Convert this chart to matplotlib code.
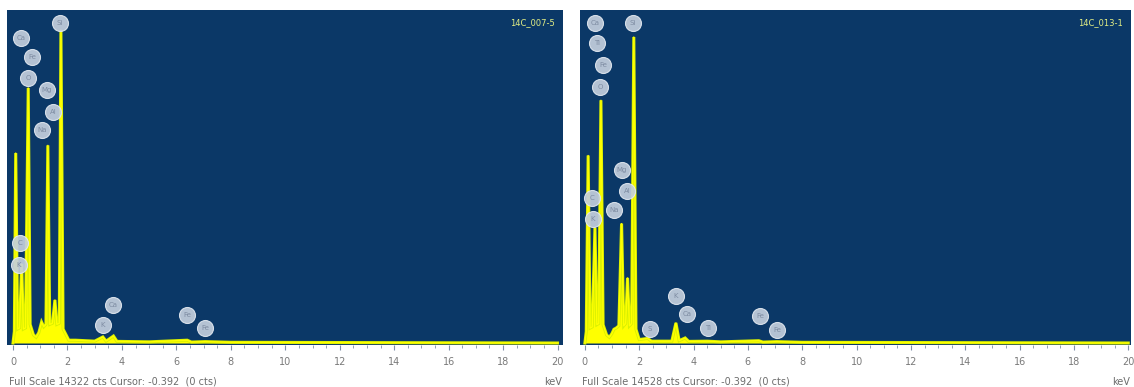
import matplotlib
matplotlib.use("Agg")
import matplotlib.pyplot as plt
from matplotlib.ticker import MultipleLocator

# spectrum 1 (14C_007-5): energy (keV) and counts
energy_a = [0.00, 0.05, 0.10, 0.17, 0.24, 0.32, 0.38, 0.46, 0.56, 0.63, 0.75, 0.85,
            0.95, 1.05, 1.13, 1.21, 1.28, 1.35, 1.45, 1.54, 1.61, 1.70, 1.76, 1.84,
            1.95, 2.05, 2.30, 3.00, 3.30, 3.42, 3.69, 3.82, 5.00, 6.40, 6.55, 7.06,
            8.00, 20.0]
counts_a = [0, 500, 8170, 600, 650, 3400, 600, 650, 10970, 800, 350, 250,
            450, 900, 700, 800, 8500, 800, 850, 1850, 800, 850, 13460, 600,
            350, 120, 120, 80, 260, 80, 300, 70, 50, 120, 40, 60,
            30, 0]

# spectrum 2 (14C_013-1)
energy_b = [0.00, 0.05, 0.12, 0.19, 0.27, 0.37, 0.44, 0.51, 0.59, 0.67, 0.80, 0.90,
            0.99, 1.07, 1.15, 1.25, 1.35, 1.43, 1.50, 1.57, 1.64, 1.72, 1.80, 1.88,
            2.00, 2.31, 2.45, 3.20, 3.35, 3.47, 3.69, 3.82, 4.51, 5.00, 6.40, 6.55,
            7.06, 8.00, 20.0]
counts_b = [0, 500, 8180, 650, 700, 5030, 800, 850, 10590, 800, 350, 250,
            400, 600, 650, 750, 5210, 750, 850, 2840, 750, 850, 13350, 600,
            150, 200, 80, 80, 875, 100, 220, 70, 80, 50, 100, 40,
            60, 30, 0]

full_scale = [14322, 14528]
names = ["14C_007-5", "14C_013-1"]

# element markers: symbol, keV, counts
labels_a = [("Si", 1.72, 13760), ("Ca", 0.29, 13120), ("Fe", 0.70, 12300),
            ("O", 0.55, 11400), ("Mg", 1.25, 10880), ("Al", 1.47, 9935),
            ("Na", 1.06, 9160), ("C", 0.26, 4300), ("K", 0.22, 3355),
            ("K", 3.30, 775), ("Ca", 3.67, 1635), ("Fe", 6.39, 1205),
            ("Fe", 7.05, 645)]
labels_b = [("Ca", 0.37, 13960), ("Ti", 0.44, 13085), ("Fe", 0.66, 12120),
            ("O", 0.55, 11160), ("Si", 1.77, 13960), ("Mg", 1.36, 7530),
            ("Al", 1.55, 6650), ("Na", 1.07, 5820), ("C", 0.26, 6345),
            ("K", 0.29, 5425), ("S", 2.39, 600), ("K", 3.35, 2060),
            ("Ca", 3.76, 1270), ("Ti", 4.53, 655), ("Fe", 6.44, 1180),
            ("Fe", 7.07, 570)]

BG = "#0b3867"
W, H = 1134, 387

fig = plt.figure(figsize=(W / 100, H / 100), dpi=100)
fig.patch.set_facecolor("white")

panels = [
    (energy_a, counts_a, labels_a, (7, 556), (-0.22, 20.2)),
    (energy_b, counts_b, labels_b, (580, 551), (-0.18, 20.1)),
]

for i, (e, c, labs, (px, pw), xl) in enumerate(panels):
    ax = fig.add_axes([px / W, (H - 345) / H, pw / W, 335 / H])
    ax.set_facecolor(BG)
    fs = full_scale[i]
    ax.fill_between(e, 0, c, color="#ffff00", lw=0)
    ax.plot(e, c, color="#d8f000", lw=2.2, solid_joinstyle="miter")
    ax.plot(e, c, color="#ffff00", lw=1.0)
    ax.set_xlim(*xl)
    ax.set_ylim(-fs * 2 / 333, fs)

    xs = [l[1] for l in labs]
    ys = [l[2] for l in labs]
    ax.plot(xs, ys, "o", ms=11.5, mfc="#c4cfdd", mec="#e2e8f0", mew=0.8, alpha=0.92)
    for sym, x, y in labs:
        ax.text(x, y, sym, fontsize=5, color="#7e8ca2", ha="center", va="center")

    ax.text(0.985, 0.975, names[i], transform=ax.transAxes, ha="right", va="top",
            fontsize=6, color="#e2ee84")

    for s in ax.spines.values():
        s.set_visible(False)
    ax.set_yticks([])
    ax.xaxis.set_major_locator(MultipleLocator(2))
    ax.xaxis.set_minor_locator(MultipleLocator(0.5))
    ax.tick_params(axis="x", which="major", length=3.5, width=0.8, color="#8090a8",
                   labelsize=7, labelcolor="#7a7a7a", pad=5)
    ax.tick_params(axis="x", which="minor", length=2, width=0.6, color="#8090a8")

    ax.text(0.004, -0.095, f"Full Scale {fs} cts Cursor: -0.392  (0 cts)",
            transform=ax.transAxes, ha="left", va="top", fontsize=7, color="#6c6c6c")
    ax.text(0.998, -0.095, "keV", transform=ax.transAxes, ha="right", va="top",
            fontsize=7, color="#6c6c6c")

fig.savefig("out.png", dpi=100, facecolor="white")
